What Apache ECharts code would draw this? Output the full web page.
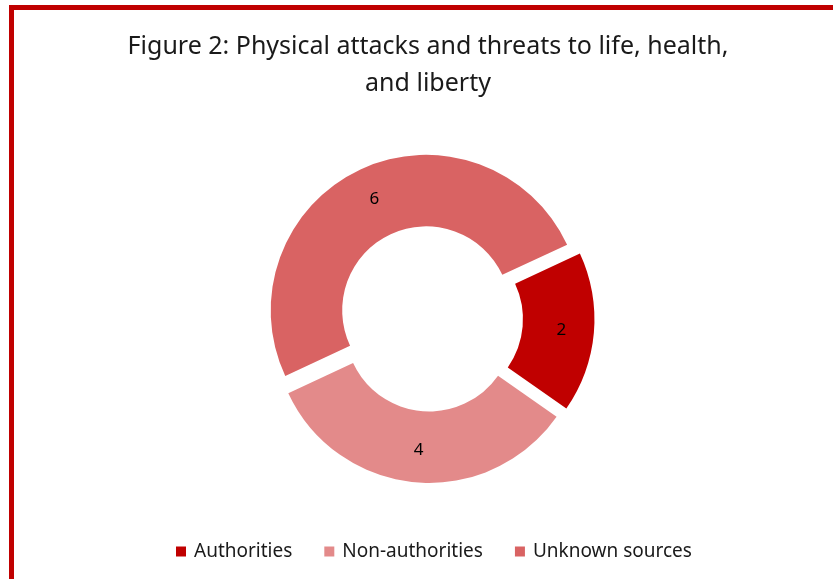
<!DOCTYPE html>
<html>
<head>
<meta charset="utf-8">
<style>
  html, body { margin: 0; padding: 0; background: #ffffff; }
  #chart { width: 833px; height: 579px; }
</style>
<script src="https://cdn.jsdelivr.net/npm/echarts@6/dist/echarts.min.js"></script>
</head>
<body>
<div id="chart"></div>
<script>
// Sources of physical attacks and threats
const categories = ['Authorities', 'Non-authorities', 'Unknown sources'];
const counts = [2, 4, 6];
const sliceColors = ['#C00000', '#E38A8A', '#D96363'];

const chart = echarts.init(document.getElementById('chart'), null, { renderer: 'canvas' });

const fontFamily = '"Noto Sans", Lato, sans-serif';

chart.setOption({
  animation: false,
  backgroundColor: '#ffffff',
  title: {
    text: 'Figure 2: Physical attacks and threats to life, health,\nand liberty',
    left: 423,
    top: 23,
    textAlign: 'center',
    textStyle: {
      fontFamily: fontFamily,
      fontSize: 25,
      fontWeight: 'normal',
      color: '#1a1a1a',
      lineHeight: 37
    }
  },
  legend: {
    data: categories,
    top: 537,
    left: 171,
    itemWidth: 10,
    itemHeight: 10,
    itemGap: 32,
    icon: 'rect',
    selectedMode: false,
    textStyle: {
      fontFamily: fontFamily,
      fontSize: 19,
      color: '#1a1a1a',
      padding: [0, 0, 0, 3]
    }
  },
  graphic: [{
    type: 'rect',
    silent: true,
    shape: { x: 11.5, y: 7.5, width: 1000, height: 800 },
    style: { fill: 'none', stroke: '#C00000', lineWidth: 5 }
  }],
  series: [{
    type: 'pie',
    center: [430, 318.5],
    radius: [84, 155.5],
    startAngle: 25,
    clockwise: true,
    selectedMode: 'multiple',
    selectedOffset: 9,
    avoidLabelOverlap: false,
    emphasis: { disabled: true },
    label: {
      show: true,
      position: 'inside',
      formatter: '{c}',
      fontFamily: fontFamily,
      fontSize: 17,
      color: '#000000'
    },
    labelLine: { show: false },
    data: categories.map((name, i) => ({
      name: name,
      value: counts[i],
      selected: true,
      itemStyle: { color: sliceColors[i] }
    }))
  }]
});
</script>
</body>
</html>
